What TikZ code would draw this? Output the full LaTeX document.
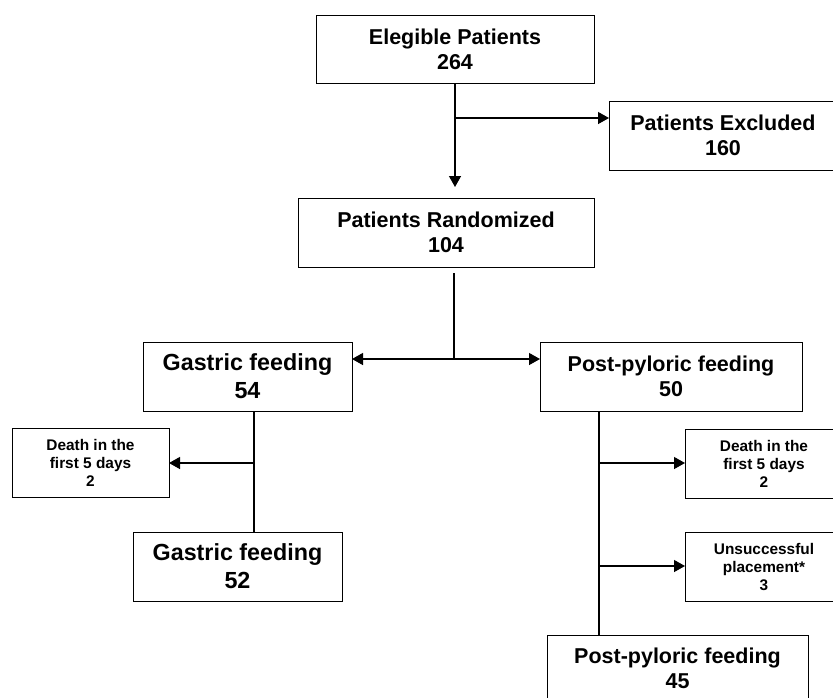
\documentclass[tikz,border=0pt]{standalone}
\usepackage{fontspec}
\setmainfont{Liberation Sans}
\usepackage{tikz}
\usetikzlibrary{arrows.meta,positioning}
\tikzset {
    box/.style={draw, line width=1pt, inner sep=0pt, outer sep=0pt,
        align=center, font=\bfseries\fontsize{21.5}{25}\selectfont},
    bigbox/.style={box, font=\bfseries\fontsize{23.3}{28}\selectfont},
    smallbox/.style={box, font=\bfseries\fontsize{15.4}{18}\selectfont},
    flow/.style={line width=1.3pt},
    >={Triangle[length=11pt,width=12pt]}
}
\begin{document}
\begin{tikzpicture}[x=1pt, y=-1pt]

        \useasboundingbox (0,0) rectangle (833,697);

        \node[box, minimum width=278pt, minimum height=68pt] (E) at (455,49) {Elegible Patients\\264};
        \node[box, minimum width=228pt, minimum height=69pt] (X) at (723,135.5) {Patients Excluded\\160};
        \node[box, minimum width=296pt, minimum height=69pt] (R) at (446,232.5) {Patients Randomized\\104};
        \node[bigbox, minimum width=209pt, minimum height=69pt] (G) at (247.5,376.5) {Gastric feeding\\54};
        \node[box, minimum width=262pt, minimum height=69pt] (P) at (671,376.5) {Post-pyloric feeding\\50};
        \node[smallbox, minimum width=157pt, minimum height=69pt] (DG) at (90.5,462.5) {Death in the\\first 5 days\\2};
        \node[bigbox, minimum width=209pt, minimum height=69pt] (GF) at (237.5,566.5) {Gastric feeding\\52};
        \node[smallbox, minimum width=158pt, minimum height=69pt] (DP) at (764,463.5) {Death in the\\first 5 days\\2};
        \node[smallbox, minimum width=158pt, minimum height=69pt] (U) at (764,566.5) {Unsuccessful\\placement*\\3};
        \node[box, minimum width=261pt, minimum height=66pt] (PF) at (677.5,668) {Post-pyloric feeding\\45};

        \coordinate (s1) at (455,118);
        \coordinate (r0) at (454,273);
        \coordinate (s2) at (454,359);
        \coordinate (g1) at (254,463);
        \coordinate (p1) at (599,463);
        \coordinate (p2) at (599,566);

        \draw[flow, ->, shorten >=11pt] (E.south) -- (E.south |- R.north);
        \draw[flow, ->] (s1) -- (s1 -| X.west);
        \draw[flow] (r0) -- (s2);
        \draw[flow, ->] (s2) -- (s2 -| G.east);
        \draw[flow, ->] (s2) -- (s2 -| P.west);
        \draw[flow] (g1 |- G.south) -- (g1 |- GF.north);
        \draw[flow, ->] (g1) -- (g1 -| DG.east);
        \draw[flow] (p1 |- P.south) -- (p1 |- PF.north);
        \draw[flow, ->] (p1) -- (p1 -| DP.west);
        \draw[flow, ->] (p2) -- (p2 -| U.west);

    \end{tikzpicture}
\end{document}
